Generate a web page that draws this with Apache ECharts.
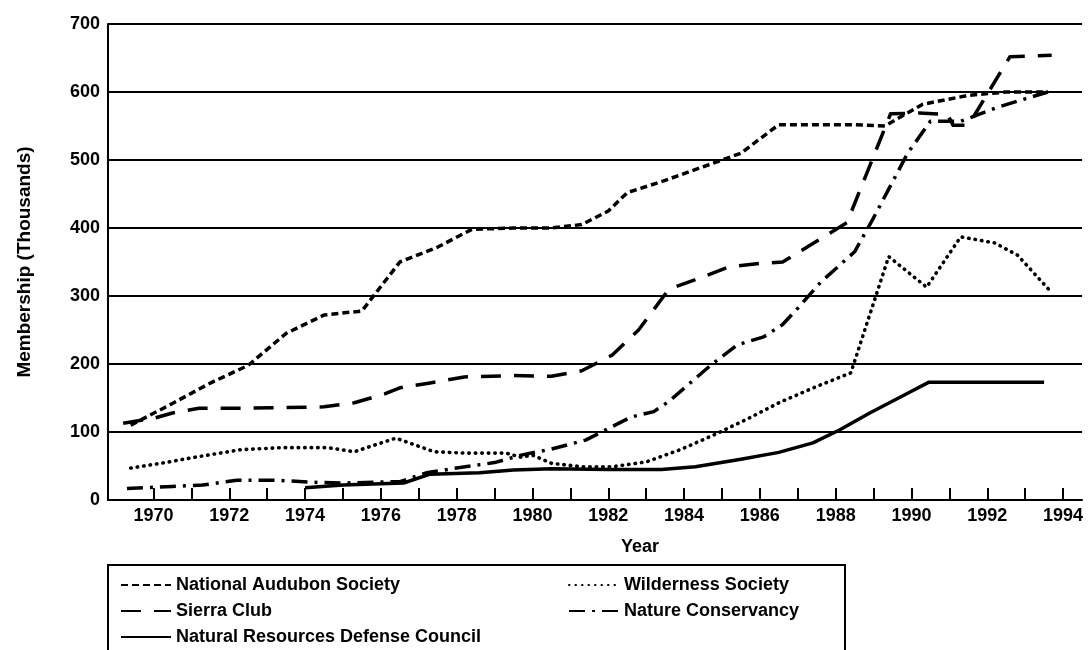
<!DOCTYPE html>
<html>
<head>
<meta charset="utf-8">
<script src="https://cdn.jsdelivr.net/npm/echarts@6/dist/echarts.min.js"></script>
<style>
html,body{margin:0;padding:0;background:#fff;}
#chart{width:1088px;height:650px;}
</style>
</head>
<body>
<div id="chart"></div>
<script>
// ---- Data (membership in thousands; x = year position as drawn) ----
const seriesNames = ['National Audubon Society', 'Sierra Club', 'Natural Resources Defense Council', 'Wilderness Society', 'Nature Conservancy'];

const audubonYears  = [1969.4, 1970.5, 1971.5, 1972.5, 1973.5, 1974.5, 1975.5, 1976.5, 1977.5, 1978.4, 1979.5, 1980.5, 1981.3, 1982.0, 1982.5, 1983.5, 1984.5, 1985.5, 1986.5, 1987.5, 1988.5, 1989.3, 1990.3, 1991.5, 1992.5, 1993.6];
const audubonValues = [110, 142, 172, 198, 245, 272, 278, 350, 372, 398, 400, 400, 405, 425, 452, 470, 490, 510, 552, 552, 552, 550, 582, 595, 600, 600];

const sierraYears  = [1969.2, 1970.0, 1970.5, 1971.2, 1972.5, 1973.5, 1974.5, 1975.3, 1976.1, 1976.5, 1977.3, 1978.2, 1979.5, 1980.5, 1981.3, 1982.1, 1982.8, 1983.6, 1984.3, 1985.2, 1986.0, 1986.6, 1988.3, 1989.45, 1990.2, 1990.95, 1991.1, 1991.5, 1992.6, 1993.7];
const sierraValues = [113, 120, 128, 135, 135, 136, 137, 143, 156, 165, 172, 181, 183, 182, 190, 213, 250, 310, 324, 343, 348, 350, 408, 568, 569, 567, 551, 551, 652, 654];

const nrdcYears  = [1974.0, 1975.0, 1976.0, 1976.6, 1977.3, 1978.6, 1979.5, 1980.5, 1982.0, 1983.4, 1984.3, 1985.5, 1986.5, 1987.4, 1988.1, 1988.9, 1989.9, 1990.45, 1993.5];
const nrdcValues = [18, 22, 24, 25, 38, 40, 44, 46, 45, 45, 49, 60, 70, 84, 103, 128, 157, 173, 173];

const wildernessYears  = [1969.4, 1970.3, 1971.1, 1972.3, 1973.4, 1974.6, 1975.3, 1976.4, 1977.4, 1978.2, 1979.3, 1979.7, 1980.0, 1980.5, 1981.3, 1982.1, 1983.0, 1983.9, 1984.8, 1985.7, 1986.5, 1987.5, 1988.4, 1989.4, 1990.4, 1991.3, 1992.2, 1992.8, 1993.7];
const wildernessValues = [47, 55, 63, 74, 77, 77, 71, 91, 71, 69, 69, 63, 66, 54, 49, 49, 56, 74, 96, 120, 143, 167, 187, 358, 313, 387, 378, 360, 305];

const natureYears  = [1969.3, 1970.5, 1971.3, 1972.2, 1973.3, 1974.2, 1975.0, 1976.5, 1977.2, 1978.0, 1979.0, 1979.7, 1980.5, 1981.4, 1982.0, 1982.6, 1983.2, 1983.6, 1984.7, 1985.4, 1986.1, 1986.6, 1987.0, 1987.6, 1988.5, 1989.0, 1989.9, 1990.5, 1991.3, 1992.3, 1993.0, 1993.6];
const natureValues = [17, 20, 22, 29, 29, 26, 25, 27, 40, 47, 55, 66, 75, 88, 105, 122, 130, 145, 198, 228, 240, 258, 282, 320, 365, 415, 510, 557, 557, 578, 590, 600];

const tickYears  = [1970, 1971, 1972, 1973, 1974, 1975, 1976, 1977, 1978, 1979, 1980, 1981, 1982, 1983, 1984, 1985, 1986, 1987, 1988, 1989, 1990, 1991, 1992, 1993, 1994];
const labelYears = [1970, 1972, 1974, 1976, 1978, 1980, 1982, 1984, 1986, 1988, 1990, 1992, 1994];

// ---- Chart ----
const zip = (xs, ys) => xs.map((x, i) => [x, ys[i]]);
const FONT = '"Liberation Sans", Arial, Helvetica, sans-serif';
const chart = echarts.init(document.getElementById('chart'), null, {renderer: 'canvas'});

function lineSeries(name, xs, ys, width, dash, cap) {
  return {
    name: name,
    type: 'line',
    data: zip(xs, ys),
    symbol: 'none',
    showSymbol: false,
    smooth: false,
    lineStyle: {color: '#000', width: width, type: dash, cap: cap || 'butt', join: 'round'},
    itemStyle: {color: '#000'},
    emphasis: {disabled: true},
    animation: false
  };
}

const legendCommon = {
  orient: 'vertical',
  top: 575,
  padding: 0,
  itemWidth: 50,
  itemHeight: 14,
  itemGap: 6,
  selectedMode: false,
  itemStyle: {color: 'rgba(0,0,0,0)', borderWidth: 0, opacity: 0},
  textStyle: {fontFamily: FONT, fontSize: 18, fontWeight: 'bold', color: '#000', lineHeight: 20}
};

const option = {
  backgroundColor: '#fff',
  animation: false,
  grid: {left: 108, right: 6, top: 24, bottom: 150, containLabel: false},
  xAxis: {
    type: 'value',
    min: 1968.8,
    max: 1994.5,
    name: 'Year',
    nameLocation: 'middle',
    nameGap: 38,
    nameTextStyle: {fontFamily: FONT, fontSize: 18, fontWeight: 'bold', color: '#000', padding: [0, 0, 0, 90]},
    axisLine: {show: true, onZero: false, lineStyle: {color: '#000', width: 2}},
    axisTick: {show: true, inside: true, length: 12, customValues: tickYears, lineStyle: {color: '#000', width: 2}},
    axisLabel: {show: true, customValues: labelYears, margin: 7, fontFamily: FONT, fontSize: 18, fontWeight: 'bold', color: '#000', formatter: v => String(v)},
    splitLine: {show: false}
  },
  yAxis: {
    type: 'value',
    min: 0,
    max: 700,
    interval: 100,
    name: 'Membership (Thousands)',
    nameLocation: 'middle',
    nameRotate: 90,
    nameGap: 74,
    nameTextStyle: {fontFamily: FONT, fontSize: 19, fontWeight: 'bold', color: '#000'},
    axisLine: {show: true, lineStyle: {color: '#000', width: 2}},
    axisTick: {show: false},
    axisLabel: {margin: 8, fontFamily: FONT, fontSize: 18, fontWeight: 'bold', color: '#000'},
    splitLine: {show: true, lineStyle: {color: '#000', width: 2}}
  },
  legend: [
    Object.assign({}, legendCommon, {left: 120, data: [seriesNames[0], seriesNames[1], seriesNames[2]]}),
    Object.assign({}, legendCommon, {left: 568, data: [seriesNames[3], seriesNames[4]]})
  ],
  graphic: [{
    type: 'rect',
    shape: {x: 108, y: 565, width: 737, height: 120},
    style: {fill: 'none', stroke: '#000', lineWidth: 2},
    silent: true,
    z: 10
  }],
  series: [
    lineSeries(seriesNames[0], audubonYears, audubonValues, 3.5, [7, 4]),
    lineSeries(seriesNames[1], sierraYears, sierraValues, 3.5, [20, 13]),
    lineSeries(seriesNames[2], nrdcYears, nrdcValues, 3.5, 'solid'),
    lineSeries(seriesNames[3], wildernessYears, wildernessValues, 3.6, [0.5, 6], 'round'),
    lineSeries(seriesNames[4], natureYears, natureValues, 3.5, [16, 7, 3, 7])
  ]
};
chart.setOption(option);
</script>
</body>
</html>
